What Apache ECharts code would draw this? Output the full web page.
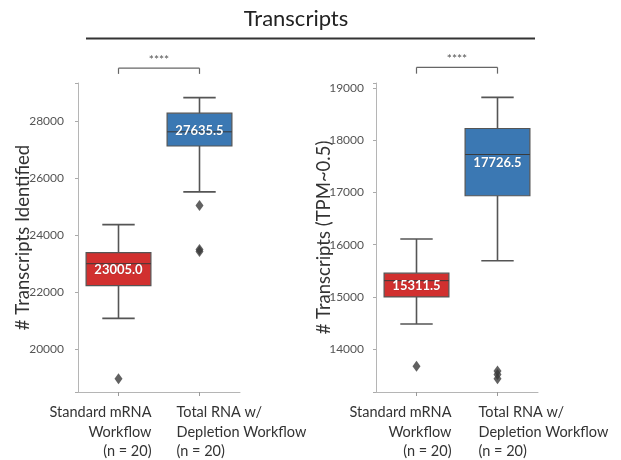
<!DOCTYPE html>
<html><head><meta charset="utf-8">
<script src="https://cdn.jsdelivr.net/npm/echarts@6/dist/echarts.min.js"></script>
<style>html,body{margin:0;padding:0;background:#fff}#c{width:621px;height:460px}</style>
</head><body><div id="c"></div>
<script>
const categories = ['Standard mRNA\nWorkflow\n(n = 20)', 'Total RNA w/\nDepletion Workflow\n(n = 20)'];
// [lower whisker, Q1, median, Q3, upper whisker]
const idBoxStandard = [21085, 22232, 23005.0, 23394, 24377];
const idBoxTotal = [25528, 27137, 27635.5, 28289, 28838];
const idOutStandard = [18968];
const idOutTotal = [25049, 23500, 23430];
const tpmBoxStandard = [14482, 15000, 15311.5, 15455, 16109];
const tpmBoxTotal = [15693, 16937, 17726.5, 18225, 18820];
const tpmOutStandard = [13674];
const tpmOutTotal = [13580, 13515, 13432];
const idAxisRange = [18500, 29350];
const tpmAxisRange = [13180, 19096];
const idTicks = [20000, 22000, 24000, 26000, 28000];
const tpmTicks = [14000, 15000, 16000, 17000, 18000, 19000];
const idBracket = [29870, 29670];
const tpmBracket = [19395, 19275];
const sigLabel = '****';
const boxColors = ['#d1302f', '#3b78b3'];
const FONT = 'Lato';
const XFS = 14.5;

const mctx = document.createElement('canvas').getContext('2d');
function textW(s) { mctx.font = XFS + 'px ' + FONT; return mctx.measureText(s).width; }
function maxLineW(s) { return Math.max.apply(null, s.split('\n').map(textW)); }

function boxRender(params, api) {
  const ci = api.value(0);
  const lo = api.coord([ci, api.value(1)]);
  const q1 = api.coord([ci, api.value(2)]);
  const md = api.coord([ci, api.value(3)]);
  const q3 = api.coord([ci, api.value(4)]);
  const hi = api.coord([ci, api.value(5)]);
  const band = api.size([1, 0])[0];
  const w = band * 0.8, cap = w / 2;
  const x = md[0];
  const ls = {stroke: '#555', lineWidth: 1.6};
  return {type: 'group', children: [
    {type: 'line', shape: {x1: x, y1: q3[1], x2: x, y2: hi[1]}, style: ls},
    {type: 'line', shape: {x1: x, y1: q1[1], x2: x, y2: lo[1]}, style: ls},
    {type: 'line', shape: {x1: x - cap / 2, y1: hi[1], x2: x + cap / 2, y2: hi[1]}, style: ls},
    {type: 'line', shape: {x1: x - cap / 2, y1: lo[1], x2: x + cap / 2, y2: lo[1]}, style: ls},
    {type: 'rect', shape: {x: x - w / 2, y: q3[1], width: w, height: q1[1] - q3[1]},
      style: {fill: boxColors[ci], stroke: '#555', lineWidth: 1.2}},
    {type: 'line', shape: {x1: x - w / 2, y1: md[1], x2: x + w / 2, y2: md[1]}, style: {stroke: '#3a3a3a', lineWidth: 1}},
    {type: 'text', style: {text: api.value(3).toFixed(1), x: x, y: (q1[1] + q3[1]) / 2 + 1,
      align: 'center', verticalAlign: 'middle', fill: '#fff', font: 'bold 13px ' + FONT,
      textShadowColor: 'rgba(0,0,0,0.35)', textShadowBlur: 1}}
  ]};
}
function bracketRender(params, api) {
  const a = api.coord([api.value(0), api.value(2)]);
  const b = api.coord([api.value(1), api.value(2)]);
  const a2 = api.coord([api.value(0), api.value(3)]);
  const ls = {stroke: '#666', lineWidth: 1.2};
  return {type: 'group', children: [
    {type: 'line', shape: {x1: a[0], y1: a[1], x2: b[0], y2: b[1]}, style: ls},
    {type: 'line', shape: {x1: a[0], y1: a[1], x2: a[0], y2: a2[1]}, style: ls},
    {type: 'line', shape: {x1: b[0], y1: b[1], x2: b[0], y2: a2[1]}, style: ls},
    {type: 'text', style: {text: sigLabel, x: (a[0] + b[0]) / 2, y: a[1] - 2, align: 'center', verticalAlign: 'bottom',
      fill: '#555', font: '12px ' + FONT}}
  ]};
}
function makeX(gi, rightShift, leftShift) {
  const sp0 = Math.max(1, maxLineW(categories[0]) - 2 * rightShift);
  const sp1 = Math.max(1, maxLineW(categories[1]) - 2 * leftShift);
  const base = {fontSize: XFS, lineHeight: 19.5, color: '#333', fontFamily: FONT};
  return {type: 'category', gridIndex: gi, data: categories,
    axisLine: {lineStyle: {color: '#b5b5b5', width: 1}},
    axisTick: {show: true, alignWithLabel: true, length: 4, lineStyle: {color: '#999'}},
    axisLabel: {margin: 11, interval: 0, hideOverlap: false,
      formatter: function (v, i) {
        return v.split('\n').map(s => i === 0 ? '{r|' + s + '}{s0| }' : '{s1| }{l|' + s + '}').join('\n');
      },
      rich: {
        r: Object.assign({align: 'right'}, base),
        s0: Object.assign({align: 'right', width: sp0}, base),
        s1: Object.assign({align: 'left', width: sp1}, base),
        l: Object.assign({align: 'left'}, base)
      }},
    splitLine: {show: false}};
}
function makeY(gi, range, ticks, name, gap, margin) {
  return {type: 'value', gridIndex: gi, min: range[0], max: range[1], splitNumber: 5,
    name: name, nameLocation: 'middle', nameGap: gap, nameRotate: 90, nameMoveOverlap: false,
    nameTextStyle: {fontSize: 18.5, color: '#333', fontFamily: FONT},
    axisLine: {show: true, lineStyle: {color: '#b5b5b5', width: 1}},
    axisTick: {show: true, length: 3, lineStyle: {color: '#aaa'}},
    axisLabel: {margin: margin, color: '#555', fontSize: 12, fontFamily: FONT,
      formatter: v => ticks.indexOf(v) >= 0 ? String(v) : ''},
    splitLine: {show: false}};
}
const chart = echarts.init(document.getElementById('c'));
chart.setOption({
  backgroundColor: '#fff',
  animation: false,
  title: {text: 'Transcripts', left: 291, textAlign: 'center', top: 3,
    textStyle: {fontSize: 22, fontWeight: 'normal', color: '#222', fontFamily: FONT}},
  graphic: [{type: 'line', shape: {x1: 86, y1: 38.5, x2: 535, y2: 38.5}, style: {stroke: '#333', lineWidth: 2}}],
  grid: [
    {left: 78, right: 381, top: 83, bottom: 68},
    {left: 376, right: 83, top: 83, bottom: 68}
  ],
  xAxis: [makeX(0, 33, 23), makeX(1, 35, 19)],
  yAxis: [
    makeY(0, idAxisRange, idTicks, '# Transcripts Identified', 45.5, 14),
    makeY(1, tpmAxisRange, tpmTicks, '# Transcripts (TPM~0.5)', 42, 12)
  ],
  series: [
    {type: 'custom', xAxisIndex: 0, yAxisIndex: 0, renderItem: boxRender, clip: false,
      data: [[0].concat(idBoxStandard), [1].concat(idBoxTotal)]},
    {type: 'custom', xAxisIndex: 1, yAxisIndex: 1, renderItem: boxRender, clip: false,
      data: [[0].concat(tpmBoxStandard), [1].concat(tpmBoxTotal)]},
    {type: 'scatter', xAxisIndex: 0, yAxisIndex: 0, symbol: 'diamond', symbolSize: [8, 11],
      itemStyle: {color: '#3a3a3a'},
      data: idOutStandard.map(v => [0, v]).concat(idOutTotal.map(v => [1, v]))},
    {type: 'scatter', xAxisIndex: 1, yAxisIndex: 1, symbol: 'diamond', symbolSize: [8, 11],
      itemStyle: {color: '#3a3a3a'},
      data: tpmOutStandard.map(v => [0, v]).concat(tpmOutTotal.map(v => [1, v]))},
    {type: 'custom', xAxisIndex: 0, yAxisIndex: 0, renderItem: bracketRender, clip: false,
      data: [[0, 1].concat(idBracket)]},
    {type: 'custom', xAxisIndex: 1, yAxisIndex: 1, renderItem: bracketRender, clip: false,
      data: [[0, 1].concat(tpmBracket)]}
  ]
});
</script></body></html>
